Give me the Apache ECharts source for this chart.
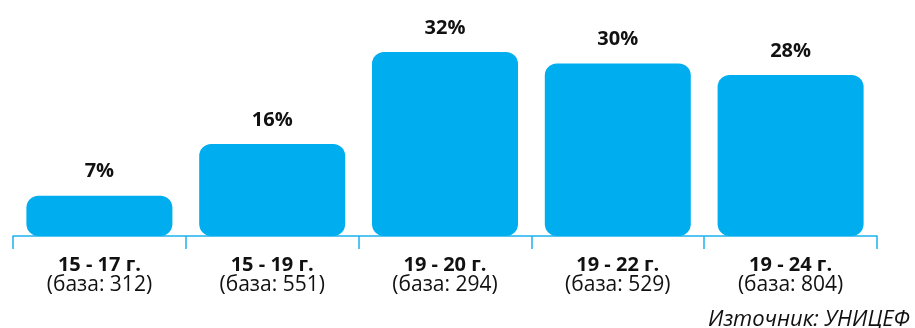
<!DOCTYPE html>
<html>
<head>
<meta charset="utf-8">
<script src="https://cdn.jsdelivr.net/npm/echarts@6/dist/echarts.min.js"></script>
<style>
html,body{margin:0;padding:0;background:#fff;}
#c{width:915px;height:328px;}
</style>
</head>
<body>
<div id="c"></div>
<script>
const ageGroups = ['15 - 17 г.', '15 - 19 г.', '19 - 20 г.', '19 - 22 г.', '19 - 24 г.'];
const bases = [312, 551, 294, 529, 804];
const percents = [7, 16, 32, 30, 28];
const sourceText = 'Източник: УНИЦЕФ';

const chart = echarts.init(document.getElementById('c'), null, {renderer: 'canvas'});
chart.setOption({
  animation: false,
  grid: {left: 13, right: 38, top: 6, bottom: 92, containLabel: false},
  xAxis: {
    type: 'category',
    data: ageGroups,
    axisLine: {show: true, lineStyle: {color: '#1CB3EE', width: 1.5}},
    axisTick: {show: true, length: 13, lineStyle: {color: '#1CB3EE', width: 1.5}},
    axisLabel: {
      margin: 19,
      interval: 0,
      formatter: function (v, i) { return '{a|' + v + '}\n{b|(база: ' + bases[i] + ')}'; },
      rich: {
        a: {fontFamily: 'Open Sans', fontWeight: 'bold', fontSize: 20, color: '#111', lineHeight: 20},
        b: {fontFamily: 'Open Sans', fontSize: 21, color: '#111', lineHeight: 21}
      }
    }
  },
  yAxis: {
    type: 'value', min: 0, max: 40, show: false,
    splitLine: {show: false}
  },
  series: [{
    type: 'bar',
    data: percents,
    barWidth: '84.5%',
    itemStyle: {color: '#00AEEF', borderRadius: 12},
    label: {
      show: true, position: 'top', distance: 14,
      formatter: '{c}%',
      fontFamily: 'Open Sans', fontWeight: 'bold', fontSize: 20, color: '#111'
    }
  }],
  graphic: [{
    type: 'text', right: 5, top: 309,
    style: {text: sourceText, fontFamily: 'Open Sans', fontStyle: 'italic', fontSize: 22, fill: '#111'}
  }]
});
</script>
</body>
</html>
